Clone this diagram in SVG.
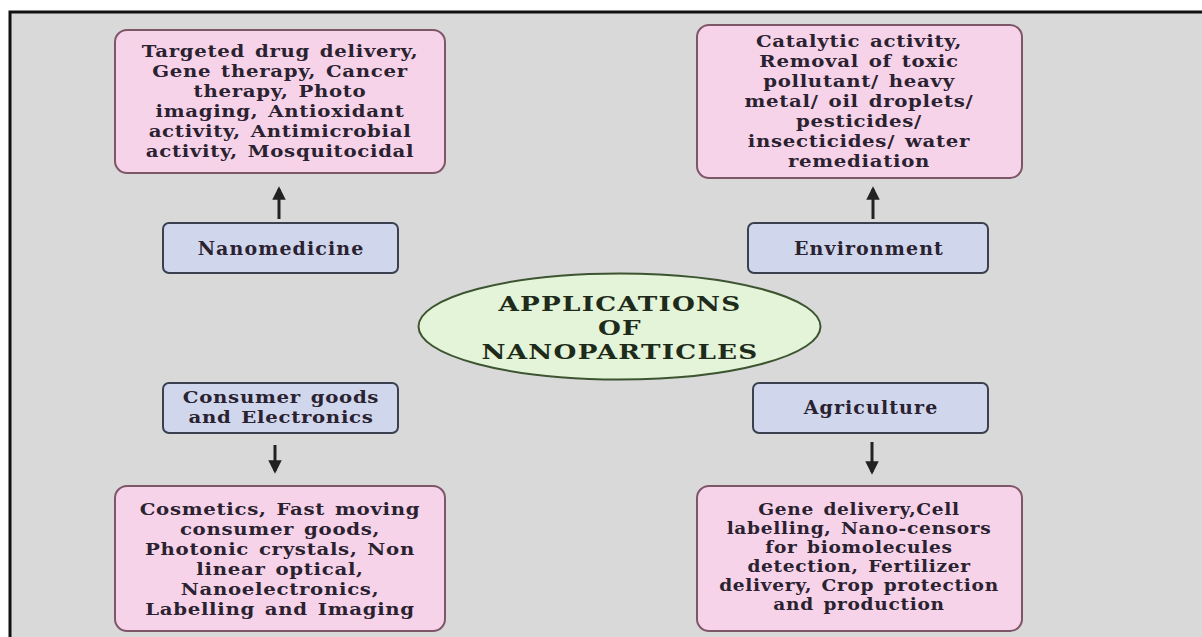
<svg xmlns="http://www.w3.org/2000/svg" width="1202" height="637" viewBox="0 0 1202 637">
<defs>
<style>
.bg{fill:#d9d9d9}
.pink{fill:#f6d3e8;stroke:#7d5668;stroke-width:2}
.blue{fill:#d0d6ec;stroke:#3a404e;stroke-width:2}
.ell{fill:#e4f4d8;stroke:#3c5530;stroke-width:2}
text{font-family:"DejaVu Serif","Liberation Serif",serif;font-weight:bold;fill:#2a2230;text-anchor:middle}
.t{font-size:17px;letter-spacing:0.6px;word-spacing:2px}
.tb{font-size:19px;letter-spacing:1.1px}
.ts{font-size:16px;letter-spacing:0.6px;word-spacing:2px}
.tc{font-size:21px;letter-spacing:1px;fill:#1e2a1a}
.shaft{stroke:#222;stroke-width:3;fill:none}
</style>
<marker id="ah" viewBox="0 0 10 10" refX="8" refY="5" markerWidth="4.5" markerHeight="4.5" orient="auto" markerUnits="strokeWidth">
<path d="M0,0 L10,5 L0,10 z" fill="#222"/>
</marker>
</defs>
<rect x="0" y="0" width="1202" height="637" fill="#ffffff"/>
<rect class="bg" x="10" y="12" width="1192" height="625"/>
<path d="M10,637 V12 H1202" fill="none" stroke="#111" stroke-width="3"/>

<g id="connectors">
<line class="shaft" x1="279" y1="219" x2="279" y2="189" marker-end="url(#ah)"/>
<line class="shaft" x1="873" y1="219" x2="873" y2="189" marker-end="url(#ah)"/>
<line class="shaft" x1="275" y1="445" x2="275" y2="471" marker-end="url(#ah)"/>
<line class="shaft" x1="872" y1="442" x2="872" y2="472" marker-end="url(#ah)"/>
</g>

<g id="medicine-uses">
<rect class="pink" x="115" y="30" width="330" height="143" rx="12"/>
<g transform="translate(280,0) scale(1.16,1)">
<text class="t" x="0" y="57">Targeted drug delivery,</text>
<text class="t" x="0" y="77">Gene therapy, Cancer</text>
<text class="t" x="0" y="97">therapy, Photo</text>
<text class="t" x="0" y="117">imaging, Antioxidant</text>
<text class="t" x="0" y="137">activity, Antimicrobial</text>
<text class="t" x="0" y="157">activity, Mosquitocidal</text>
</g>
</g>

<g id="environment-uses">
<rect class="pink" x="697" y="25" width="325" height="153" rx="12"/>
<g transform="translate(859,0) scale(1.16,1)">
<text class="t" x="0" y="47">Catalytic activity,</text>
<text class="t" x="0" y="67">Removal of toxic</text>
<text class="t" x="0" y="87">pollutant/ heavy</text>
<text class="t" x="0" y="107">metal/ oil droplets/</text>
<text class="t" x="0" y="127">pesticides/</text>
<text class="t" x="0" y="147">insecticides/ water</text>
<text class="t" x="0" y="167">remediation</text>
</g>
</g>

<g id="nanomedicine">
<rect class="blue" x="163" y="223" width="235" height="50" rx="6"/>
<text class="tb" x="281" y="255">Nanomedicine</text>
</g>

<g id="environment">
<rect class="blue" x="748" y="223" width="240" height="50" rx="6"/>
<text class="tb" x="869" y="255">Environment</text>
</g>

<g id="center">
<ellipse class="ell" cx="619.5" cy="326.5" rx="201" ry="53"/>
<g transform="translate(620,0) scale(1.25,1)">
<text class="tc" x="0" y="311">APPLICATIONS</text>
<text class="tc" x="0" y="335">OF</text>
<text class="tc" x="0" y="359">NANOPARTICLES</text>
</g>
</g>

<g id="consumer">
<rect class="blue" x="163" y="383" width="235" height="50" rx="6"/>
<g transform="translate(281,0) scale(1.16,1)">
<text class="t" x="0" y="403">Consumer goods</text>
<text class="t" x="0" y="423">and Electronics</text>
</g>
</g>

<g id="agriculture">
<rect class="blue" x="753" y="383" width="235" height="50" rx="6"/>
<text class="tb" x="871" y="414">Agriculture</text>
</g>

<g id="consumer-uses">
<rect class="pink" x="115" y="486" width="330" height="145" rx="12"/>
<g transform="translate(280,0) scale(1.16,1)">
<text class="t" x="0" y="515">Cosmetics, Fast moving</text>
<text class="t" x="0" y="535">consumer goods,</text>
<text class="t" x="0" y="555">Photonic crystals, Non</text>
<text class="t" x="0" y="575">linear optical,</text>
<text class="t" x="0" y="595">Nanoelectronics,</text>
<text class="t" x="0" y="615">Labelling and Imaging</text>
</g>
</g>

<g id="agriculture-uses">
<rect class="pink" x="697" y="486" width="325" height="145" rx="12"/>
<g transform="translate(859,0) scale(1.16,1)">
<text class="ts" x="0" y="515">Gene delivery,Cell</text>
<text class="ts" x="0" y="534">labelling, Nano-censors</text>
<text class="ts" x="0" y="553">for biomolecules</text>
<text class="ts" x="0" y="572">detection, Fertilizer</text>
<text class="ts" x="0" y="591">delivery, Crop protection</text>
<text class="ts" x="0" y="610">and production</text>
</g>
</g>
</svg>
